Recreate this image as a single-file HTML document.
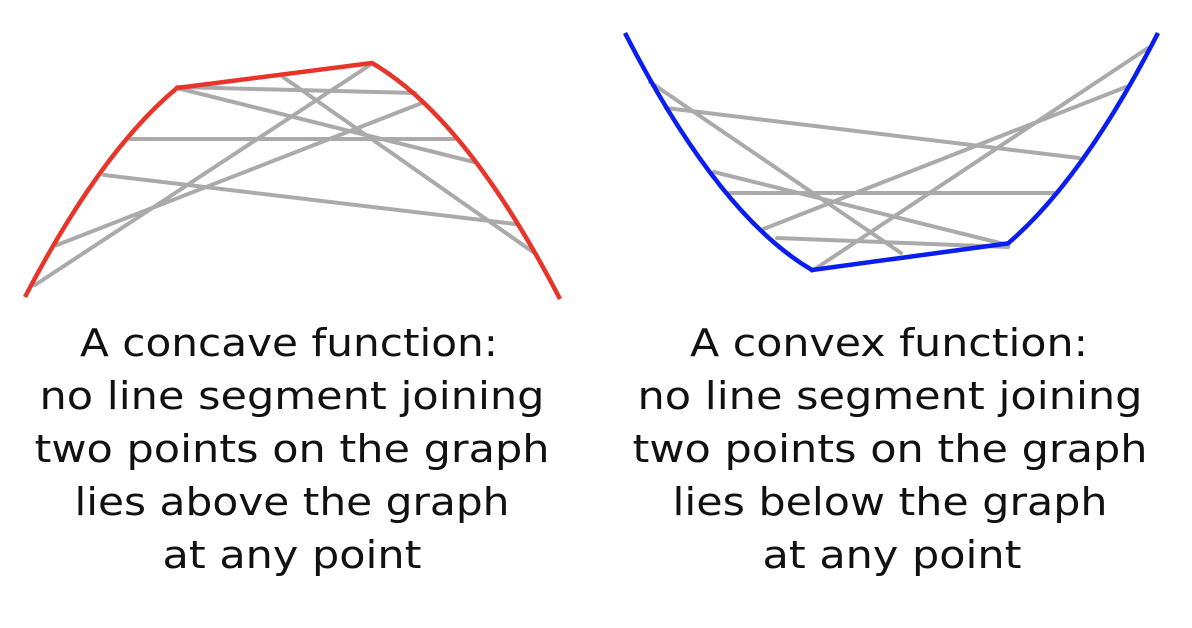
<!DOCTYPE html>
<html><head><style>
html,body{margin:0;padding:0;background:#fff;}
svg{display:block;}
text{font-family:"DejaVu Sans","Liberation Sans",sans-serif;font-size:38px;fill:#111;text-anchor:middle;}
</style></head><body>
<svg width="1192" height="628" viewBox="0 0 1192 628" xmlns="http://www.w3.org/2000/svg">
<g stroke="#aaa" stroke-width="4" fill="none" stroke-linecap="round">
<line x1="177" y1="87" x2="415" y2="93"/>
<line x1="177" y1="88" x2="474" y2="162"/>
<line x1="283" y1="77" x2="533" y2="252"/>
<line x1="370" y1="65" x2="35" y2="285"/>
<line x1="422" y1="103" x2="57" y2="245"/>
<line x1="130" y1="139" x2="454" y2="139"/>
<line x1="104" y1="175" x2="515" y2="224"/>

<line x1="650" y1="82" x2="901" y2="253"/>
<line x1="666" y1="108" x2="1079" y2="158"/>
<line x1="714" y1="172" x2="1008" y2="245"/>
<line x1="730" y1="193" x2="1054" y2="193"/>
<line x1="761" y1="230" x2="1126" y2="87"/>
<line x1="777" y1="238" x2="1008" y2="247"/>
<line x1="812" y1="271" x2="1148" y2="48"/>
</g>
<path d="M25 297 Q101 151 177 88 L372 63 Q466 117.5 560 299" stroke="#e8352a" stroke-width="4.5" fill="none" stroke-linejoin="round"/>
<path d="M625 33 Q718.5 215.4 812 270 L1008 243.4 Q1083 179.4 1158 33" stroke="#0a1ef0" stroke-width="4.5" fill="none" stroke-linejoin="round"/>
<g lengthAdjust="spacingAndGlyphs">
<text x="289" y="356" textLength="418" lengthAdjust="spacingAndGlyphs">A concave function:</text>
<text x="292" y="409" textLength="505" lengthAdjust="spacingAndGlyphs">no line segment joining</text>
<text x="292" y="462" textLength="515" lengthAdjust="spacingAndGlyphs">two points on the graph</text>
<text x="292" y="515" textLength="435" lengthAdjust="spacingAndGlyphs">lies above the graph</text>
<text x="292" y="568" textLength="259" lengthAdjust="spacingAndGlyphs">at any point</text>
<text x="889" y="356" textLength="398" lengthAdjust="spacingAndGlyphs">A convex function:</text>
<text x="890" y="409" textLength="505" lengthAdjust="spacingAndGlyphs">no line segment joining</text>
<text x="890" y="462" textLength="515" lengthAdjust="spacingAndGlyphs">two points on the graph</text>
<text x="890" y="515" textLength="435" lengthAdjust="spacingAndGlyphs">lies below the graph</text>
<text x="892" y="568" textLength="259" lengthAdjust="spacingAndGlyphs">at any point</text>
</g>
</svg>
</body></html>
